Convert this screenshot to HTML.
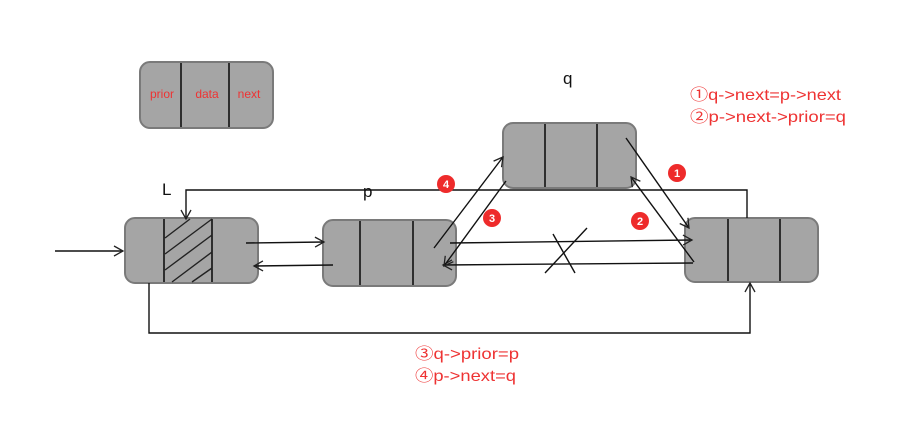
<!DOCTYPE html>
<html><head><style>body{margin:0;background:#fff}svg{display:block}</style></head><body>
<svg width="909" height="445" xmlns="http://www.w3.org/2000/svg" font-family="Liberation Sans, Noto Sans CJK SC, sans-serif">
<defs><marker id="a" markerWidth="12" markerHeight="12" refX="10" refY="6" orient="auto" markerUnits="userSpaceOnUse"><path d="M1,1 L10,6 L1,11" fill="none" stroke="#222" stroke-width="1.3"/></marker></defs>
<g fill="#a5a5a5" stroke="#7a7a7a" stroke-width="2">
<rect x="140" y="62" width="133" height="66" rx="10"/>
<rect x="125" y="218" width="133" height="65" rx="10"/>
<rect x="323" y="220" width="133" height="66" rx="10"/>
<rect x="503" y="123" width="133" height="65" rx="10"/>
<rect x="685" y="218" width="133" height="64" rx="10"/>
</g>
<g stroke="#111" stroke-width="1.6">
<line x1="181" y1="63" x2="181" y2="127"/><line x1="229" y1="63" x2="229" y2="127"/>
<line x1="164" y1="219" x2="164" y2="282"/><line x1="212" y1="219" x2="212" y2="282"/>
<line x1="360" y1="221" x2="360" y2="285"/><line x1="413" y1="221" x2="413" y2="285"/>
<line x1="545" y1="124" x2="545" y2="187"/><line x1="597" y1="124" x2="597" y2="187"/>
<line x1="728" y1="219" x2="728" y2="281"/><line x1="780" y1="219" x2="780" y2="281"/>
</g>
<g stroke="#222" stroke-width="1.4">
<line x1="165" y1="238" x2="190" y2="219"/><line x1="165" y1="254" x2="212" y2="219"/><line x1="165" y1="270" x2="212" y2="235"/><line x1="172" y1="282" x2="212" y2="252"/><line x1="192" y1="282" x2="212" y2="268"/>
</g>
<g stroke="#111" stroke-width="1.4" fill="none">
<line x1="55" y1="251" x2="123" y2="251" marker-end="url(#a)"/>
<line x1="246" y1="243" x2="324" y2="242" marker-end="url(#a)"/>
<line x1="333" y1="265" x2="254" y2="266" marker-end="url(#a)"/>
<polyline points="747,218 747,190 186,190 186,219" marker-end="url(#a)"/>
<polyline points="149,283 149,333 750,333 750,283" marker-end="url(#a)"/>
<line x1="450" y1="243" x2="692" y2="240" marker-end="url(#a)"/>
<line x1="693" y1="263" x2="443" y2="265" marker-end="url(#a)"/>
<line x1="553" y1="234" x2="575" y2="273"/>
<line x1="587" y1="228" x2="545" y2="273"/>
<line x1="434" y1="248" x2="503" y2="157" marker-end="url(#a)"/>
<line x1="506" y1="181" x2="444" y2="266" marker-end="url(#a)"/>
<line x1="626" y1="138" x2="689" y2="228" marker-end="url(#a)"/>
<line x1="694" y1="262" x2="631" y2="177" marker-end="url(#a)"/>
</g>
<g fill="#ee2b2b"><circle cx="446" cy="184" r="9"/><circle cx="492" cy="218" r="9"/><circle cx="677" cy="173" r="9"/><circle cx="640" cy="221" r="9"/></g>
<g fill="#fff" font-size="11" font-weight="bold" text-anchor="middle"><text x="446" y="188">4</text><text x="492" y="222">3</text><text x="677" y="177">1</text><text x="640" y="225">2</text></g>
<g fill="#e33" font-size="12" text-anchor="middle"><text x="162" y="98">prior</text><text x="207" y="98">data</text><text x="249" y="98">next</text></g>
<g fill="#111" font-size="17"><text x="563" y="84">q</text><text x="162" y="195">L</text><text x="363" y="197">p</text></g>
<g fill="#e33" font-size="16"><text x="690" y="100" textLength="151" lengthAdjust="spacingAndGlyphs">①q-&gt;next=p-&gt;next</text><text x="690" y="122" textLength="156" lengthAdjust="spacingAndGlyphs">②p-&gt;next-&gt;prior=q</text><text x="415" y="359" textLength="104" lengthAdjust="spacingAndGlyphs">③q-&gt;prior=p</text><text x="415" y="381" textLength="101" lengthAdjust="spacingAndGlyphs">④p-&gt;next=q</text></g>
</svg>
</body></html>
